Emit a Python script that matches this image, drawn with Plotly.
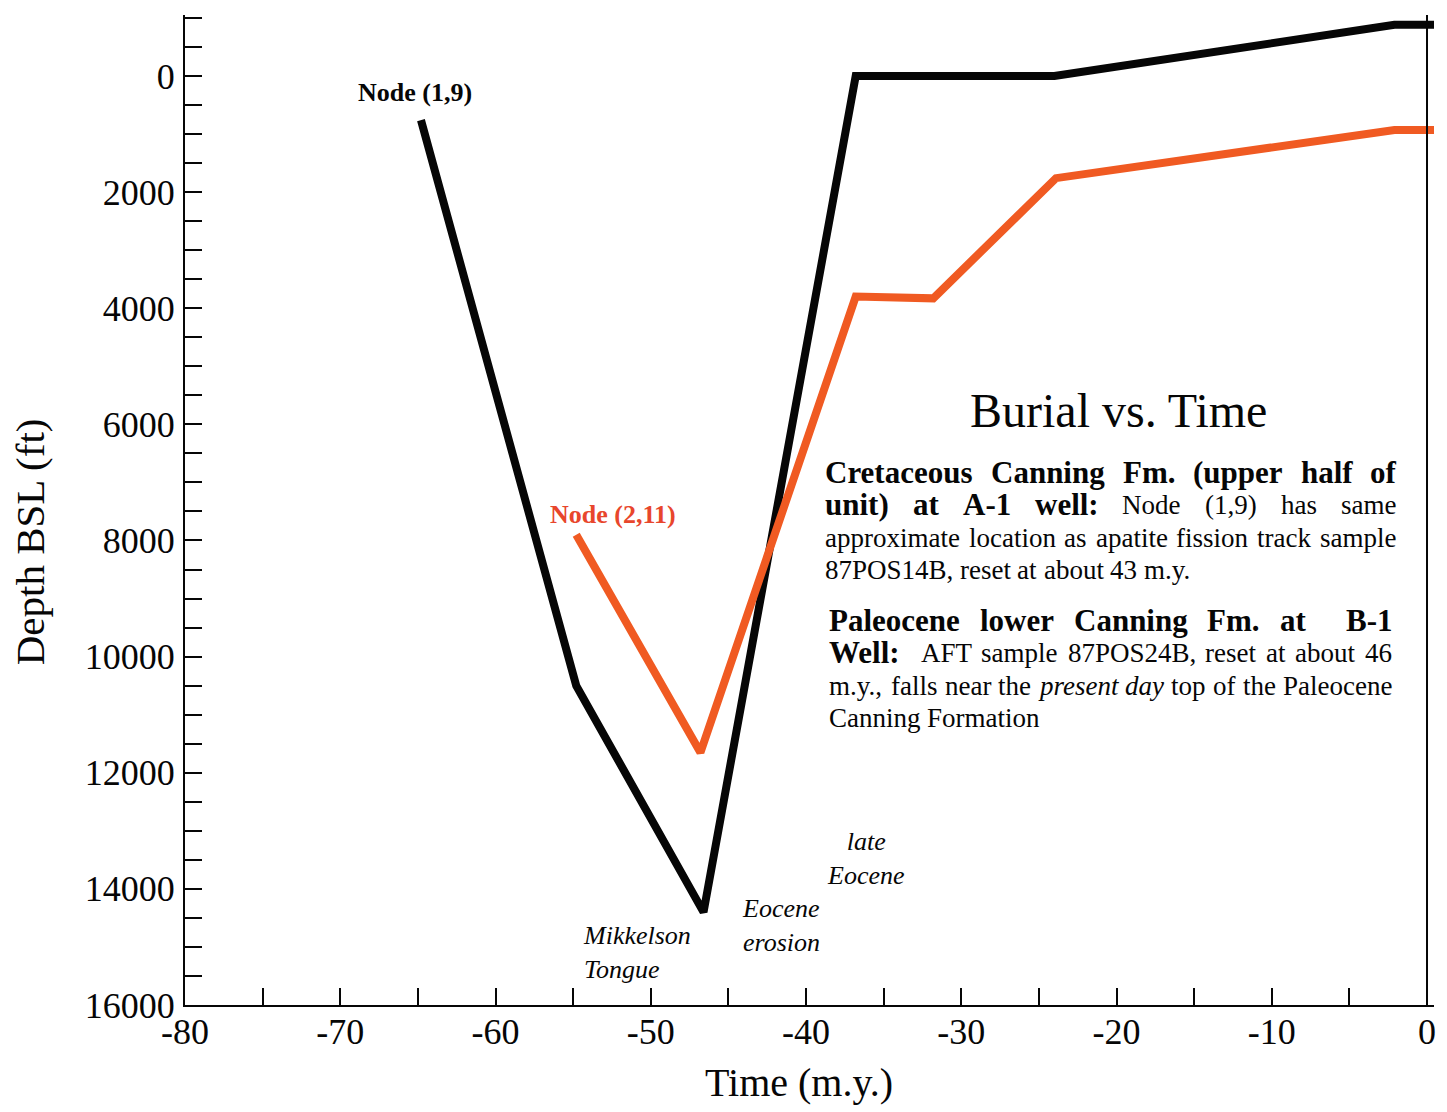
import plotly.graph_objects as go

# ---------------------------------------------------------------------------
# Burial history data: time (m.y., negative = before present) and depth BSL (ft)
# ---------------------------------------------------------------------------
node19_time = [-64.8, -54.8, -46.6, -36.8, -24.0, -2.1, 0.45]
node19_depth = [760, 10500, 14400, 0, 0, -880, -880]

node211_time = [-54.8, -46.8, -36.8, -34.0, -31.8, -23.9, -2.1, 0.45]
node211_depth = [7900, 11650, 3800, 3800, 3830, 1760, 930, 930]

x_range = [-80, 0.45]
y_range = [16000, -1050]
x_tick_vals = [-80, -70, -60, -50, -40, -30, -20, -10, 0]
x_tick_text = ["-80", "-70", "-60", "-50", "-40", "-30", "-20", "-10", "0"]
y_tick_vals = [0, 2000, 4000, 6000, 8000, 10000, 12000, 14000, 16000]
y_tick_text = ["0", "2000", "4000", "6000", "8000", "10000", "12000", "14000", "16000"]
x_minor, y_minor = 5, 500

BLACK = "#060606"
ORANGE = "#f05a22"
RED_LABEL = "#e8462c"
SERIF = "Liberation Serif"

W, H = 1447, 1112
L, R, T, B = 185, 11, 15, 107
PX0, PX1 = L, W - R          # plot area in page pixels
PY0, PY1 = T, H - B


def px(x):
    return (x - PX0) / (PX1 - PX0)


def py(y):
    return (PY1 - y) / (PY1 - PY0)


fig = go.Figure()

fig.add_trace(go.Scatter(
    x=node19_time, y=node19_depth, mode="lines",
    line=dict(color=BLACK, width=8), showlegend=False, hoverinfo="skip"))
fig.add_trace(go.Scatter(
    x=node211_time, y=node211_depth, mode="lines",
    line=dict(color=ORANGE, width=8), showlegend=False, hoverinfo="skip"))

# right-hand frame line at present day
fig.add_shape(type="line", xref="x", yref="paper", x0=0, x1=0, y0=0, y1=1,
              line=dict(color=BLACK, width=2))

annotations = []

# node labels, tied to the first point of each path
annotations.append(dict(x=node19_time[0], y=node19_depth[0], xref="x", yref="y",
                        text="<b>Node (1,9)</b>", showarrow=False,
                        xshift=-6, yshift=28,
                        font=dict(family=SERIF, size=26, color=BLACK)))
annotations.append(dict(x=node211_time[0], y=node211_depth[0], xref="x", yref="y",
                        text="<b>Node (2,11)</b>", showarrow=False,
                        xshift=37, yshift=20,
                        font=dict(family=SERIF, size=26, color=RED_LABEL)))

# period labels
annotations.append(dict(x=px(582), y=py(952), xref="paper", yref="paper",
                        text="<i>Mikkelson<br>Tongue</i>", showarrow=False,
                        xanchor="left", yanchor="middle", align="left",
                        font=dict(family=SERIF, size=26, color=BLACK)))
annotations.append(dict(x=px(741), y=py(925), xref="paper", yref="paper",
                        text="<i>Eocene<br>erosion</i>", showarrow=False,
                        xanchor="left", yanchor="middle", align="left",
                        font=dict(family=SERIF, size=26, color=BLACK)))
annotations.append(dict(x=px(867), y=py(859), xref="paper", yref="paper",
                        text="<i>late<br>Eocene</i>", showarrow=False,
                        xanchor="center", yanchor="middle", align="center",
                        font=dict(family=SERIF, size=26, color=BLACK)))

# chart title
annotations.append(dict(x=px(1120), y=py(410), xref="paper", yref="paper",
                        text="Burial vs. Time", showarrow=False,
                        xanchor="center", yanchor="middle",
                        font=dict(family=SERIF, size=48, color=BLACK)))

# axis titles
annotations.append(dict(x=px(800), y=py(1082), xref="paper", yref="paper",
                        text="Time (m.y.)", showarrow=False,
                        xanchor="center", yanchor="middle",
                        font=dict(family=SERIF, size=40, color=BLACK)))
annotations.append(dict(x=px(30), y=py(542), xref="paper", yref="paper",
                        text="Depth BSL (ft)", showarrow=False, textangle=-90,
                        xanchor="center", yanchor="middle",
                        font=dict(family=SERIF, size=41, color=BLACK)))

# ---------------------------------------------------------------------------
# Justified note paragraphs: word widths from Times metrics (1/1000 em)
# ---------------------------------------------------------------------------
_lower_r = dict(zip("abcdefghijklmnopqrstuvwxyz",
                    [444, 500, 444, 500, 444, 333, 500, 500, 278, 278, 500, 278, 778,
                     500, 500, 500, 500, 333, 389, 278, 500, 500, 722, 500, 500, 444]))
_upper_r = dict(zip("ABCDEFGHIJKLMNOPQRSTUVWXYZ",
                    [722, 667, 667, 722, 611, 556, 722, 722, 333, 389, 722, 611, 889,
                     722, 722, 556, 722, 667, 556, 611, 722, 722, 944, 722, 722, 611]))
_lower_b = dict(zip("abcdefghijklmnopqrstuvwxyz",
                    [500, 556, 444, 556, 444, 333, 500, 556, 278, 333, 556, 278, 833,
                     556, 500, 556, 556, 444, 389, 333, 556, 500, 722, 500, 500, 444]))
_upper_b = dict(zip("ABCDEFGHIJKLMNOPQRSTUVWXYZ",
                    [722, 667, 722, 722, 667, 611, 778, 778, 389, 500, 778, 667, 944,
                     722, 778, 611, 778, 722, 556, 667, 722, 722, 1000, 722, 722, 667]))
_lower_i = dict(zip("abcdefghijklmnopqrstuvwxyz",
                    [500, 500, 444, 500, 444, 278, 500, 500, 278, 278, 444, 278, 722,
                     500, 500, 500, 500, 389, 389, 278, 500, 444, 667, 444, 444, 389]))
_punct = {" ": 250, "(": 333, ")": 333, ",": 250, ".": 250, "-": 333, ":": 278}
_digits = {d: 500 for d in "0123456789"}

METRICS = {
    "r": {**_lower_r, **_upper_r, **_punct, **_digits},
    "b": {**_lower_b, **_upper_b, **_punct, **_digits, ":": 333},
    "i": {**_lower_i, **_upper_r, **_punct, **_digits},
}
SIZES = {"r": 27, "b": 31, "i": 27}


def word_width(word, style):
    table = METRICS[style]
    return sum(table.get(ch, 500) for ch in word) * SIZES[style] / 1000.0


def add_line(words, x0, x1, yc, justify=True):
    """words: list of (text, style, gap_weight_before)."""
    widths = [word_width(w, s) for w, s, _ in words]
    weights = [g for _, _, g in words[1:]]
    if justify and weights:
        unit = (x1 - x0 - sum(widths)) / sum(weights)
    else:
        unit = 0.25 * SIZES["r"]
    x = x0
    for i, ((w, s, _), wd) in enumerate(zip(words, widths)):
        txt = {"r": w, "b": f"<b>{w}</b>", "i": f"<i>{w}</i>"}[s]
        annotations.append(dict(
            x=px(x), y=py(yc), xref="paper", yref="paper", text=txt,
            showarrow=False, xanchor="left", yanchor="middle", borderpad=0,
            font=dict(family=SERIF, size=SIZES[s], color=BLACK)))
        if i < len(weights):
            x += wd + unit * weights[i]


def words_of(text, style, first_gap=1):
    parts = text.split()
    return [(p, style, first_gap if k == 0 else 1) for k, p in enumerate(parts)]


P1_X0, P1_X1 = 825, 1397
P2_X0, P2_X1 = 829, 1393

add_line(words_of("Cretaceous Canning Fm. (upper half of", "b"), P1_X0, P1_X1, 472)
add_line(words_of("unit) at A-1 well:", "b") + words_of("Node (1,9) has same", "r"),
         P1_X0, P1_X1, 505)
add_line(words_of("approximate location as apatite fission track sample", "r"),
         P1_X0, P1_X1, 538)
add_line(words_of("87POS14B, reset at about 43 m.y.", "r"), P1_X0, P1_X1, 570,
         justify=False)

add_line(words_of("Paleocene lower Canning Fm. at", "b") + words_of("B-1", "b", 2),
         P2_X0, P2_X1, 620)
add_line(words_of("Well:", "b") + words_of("AFT sample 87POS24B, reset at about 46", "r", 2),
         P2_X0, P2_X1, 653)
add_line(words_of("m.y., falls near the", "r") + words_of("present day", "i")
         + words_of("top of the Paleocene", "r"), P2_X0, P2_X1, 686)
add_line(words_of("Canning Formation", "r"), P2_X0, P2_X1, 718, justify=False)

axis_common = dict(
    showline=True, linecolor=BLACK, linewidth=2,
    ticks="inside", ticklen=17, tickwidth=2, tickcolor=BLACK,
    showgrid=False, zeroline=False, tickmode="array",
    tickfont=dict(family=SERIF, size=36, color=BLACK),
)

fig.update_layout(
    width=W, height=H,
    margin=dict(l=L, r=R, t=T, b=B),
    paper_bgcolor="white", plot_bgcolor="white",
    xaxis=dict(range=x_range, tickvals=x_tick_vals, ticktext=x_tick_text,
               minor=dict(dtick=x_minor, tick0=0, ticks="inside", ticklen=17,
                          tickwidth=2, tickcolor=BLACK, showgrid=False),
               ticklabelstandoff=-6, **axis_common),
    yaxis=dict(range=y_range, tickvals=y_tick_vals, ticktext=y_tick_text,
               minor=dict(dtick=y_minor, tick0=0, ticks="inside", ticklen=17,
                          tickwidth=2, tickcolor=BLACK, showgrid=False),
               ticklabelstandoff=1, **axis_common),
    annotations=annotations,
    showlegend=False,
)

fig.write_html("out.html")
